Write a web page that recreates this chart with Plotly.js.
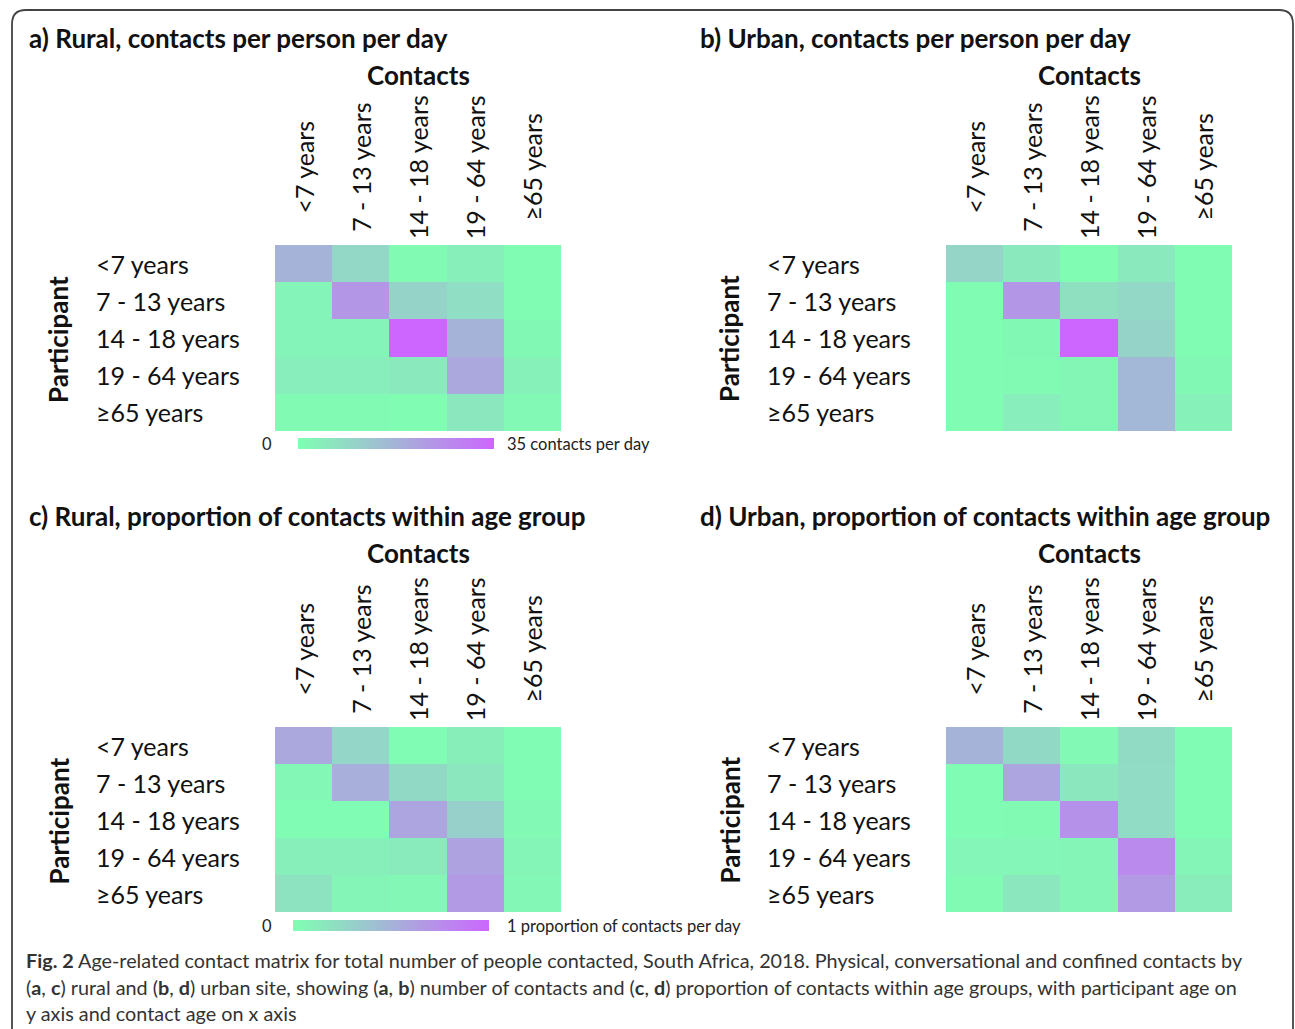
<!DOCTYPE html>
<html><head><meta charset="utf-8">
<script src="https://cdn.plot.ly/plotly-3.0.1.min.js"></script>
<style>html,body{margin:0;padding:0;background:#fff;}#chart{width:1295px;height:1029px;}</style>
</head><body><div id="chart"></div>
<script>
const ageGroups = ['<7 years', '7 - 13 years', '14 - 18 years', '19 - 64 years', '≥65 years'];

// a) Rural, contacts per person per day (rows: participant, cols: contact)
const ruralContacts = [
  [17.5, 9.0, 1.0, 3.5, 0.5],
  [2.5, 24.0, 10.0, 7.5, 0.5],
  [2.5, 2.5, 35.0, 17.5, 1.5],
  [4.0, 4.0, 5.0, 20.0, 3.0],
  [1.0, 1.0, 0.5, 5.5, 1.2]
];
// b) Urban, contacts per person per day
const urbanContacts = [
  [9.5, 5.0, 0.5, 5.0, 0.5],
  [0.5, 24.0, 7.0, 9.0, 0.5],
  [0.5, 1.5, 35.0, 10.0, 0.5],
  [0.5, 1.0, 2.0, 16.5, 1.5],
  [0.5, 4.0, 2.0, 16.5, 3.0]
];
// c) Rural, proportion of contacts within age group
const ruralProportion = [
  [0.57, 0.27, 0.02, 0.11, 0.02],
  [0.05, 0.52, 0.25, 0.15, 0.02],
  [0.02, 0.02, 0.59, 0.31, 0.04],
  [0.10, 0.10, 0.13, 0.61, 0.07],
  [0.18, 0.07, 0.05, 0.66, 0.05]
];
// d) Urban, proportion of contacts within age group
const urbanProportion = [
  [0.50, 0.25, 0.04, 0.24, 0.02],
  [0.02, 0.59, 0.16, 0.23, 0.02],
  [0.02, 0.03, 0.72, 0.23, 0.02],
  [0.06, 0.06, 0.07, 0.76, 0.07],
  [0.03, 0.16, 0.07, 0.66, 0.12]
];
const panelTitles = [
  'a) Rural, contacts per person per day',
  'b) Urban, contacts per person per day',
  'c) Rural, proportion of contacts within age group',
  'd) Urban, proportion of contacts within age group'
];
const contactsMax = 35;
const proportionMax = 1;
const scaleLabelContacts = '35 contacts per day';
const scaleLabelProportion = '1 proportion of contacts per day';
const captionLines = [
  '<b>Fig. 2</b> Age-related contact matrix for total number of people contacted, South Africa, 2018. Physical, conversational and confined contacts by',
  '(<b>a</b>, <b>c</b>) rural and (<b>b</b>, <b>d</b>) urban site, showing (<b>a</b>, <b>b</b>) number of contacts and (<b>c</b>, <b>d</b>) proportion of contacts within age groups, with participant age on',
  'y axis and contact age on x axis'
];

const W = 1295, H = 1029;
const px = v => v / W;
const py = v => 1 - v / H;
const FONT = 'Lato, "Open Sans", sans-serif';
const colorscale = [[0, '#7FFFB2'], [1, '#CC66FF']];
const LABEL = {family: FONT, size: 25, color: '#111'};
const HEAD = {family: FONT, size: 26, color: '#111'};

// panel geometry in pixels
const panels = [
  {z: ruralContacts, zmax: contactsMax, x0: 275, x1: 561, y0: 245, y1: 431, tx: 27, ty: 38, bar: {cx: 396, top: 438}, label: scaleLabelContacts},
  {z: urbanContacts, zmax: contactsMax, x0: 946, x1: 1232, y0: 245, y1: 431, tx: 698, ty: 38},
  {z: ruralProportion, zmax: proportionMax, x0: 275, x1: 561, y0: 727, y1: 912, tx: 27, ty: 516, bar: {cx: 391, top: 920}, label: scaleLabelProportion},
  {z: urbanProportion, zmax: proportionMax, x0: 946, x1: 1232, y0: 727, y1: 912, tx: 698, ty: 516}
];

const data = [];
const layout = {
  width: W, height: H,
  margin: {l: 0, r: 0, t: 0, b: 0},
  paper_bgcolor: '#fff', plot_bgcolor: '#fff',
  showlegend: false,
  annotations: [],
  shapes: []
};

panels.forEach((p, i) => {
  const n = i === 0 ? '' : String(i + 1);
  const tr = {
    type: 'heatmap',
    x: ageGroups, y: ageGroups, z: p.z,
    zmin: 0, zmax: p.zmax,
    colorscale: colorscale,
    xaxis: 'x' + n, yaxis: 'y' + n,
    hoverinfo: 'x+y+z',
    showscale: !!p.bar
  };
  if (p.bar) {
    tr.colorbar = {
      orientation: 'h',
      x: px(p.bar.cx), xanchor: 'center',
      y: py(p.bar.top), yanchor: 'top',
      len: 196, lenmode: 'pixels',
      thickness: 11, thicknessmode: 'pixels',
      outlinewidth: 0, showticklabels: false, ticks: '',
      xpad: 0, ypad: 0
    };
  }
  data.push(tr);
  layout['xaxis' + n] = {
    domain: [px(p.x0), px(p.x1)],
    anchor: 'y' + n,
    side: 'top',
    showgrid: false, zeroline: false, showline: false, ticks: '',
    showticklabels: false,
    fixedrange: true
  };
  layout['yaxis' + n] = {
    domain: [py(p.y1), py(p.y0)],
    anchor: 'x' + n,
    autorange: 'reversed',
    showgrid: false, zeroline: false, showline: false, ticks: '',
    showticklabels: false,
    fixedrange: true
  };
  // panel title
  layout.annotations.push({xref: 'paper', yref: 'paper', x: px(p.tx), y: py(p.ty), xanchor: 'left', yanchor: 'middle',
    text: '<b>' + panelTitles[i] + '</b>', showarrow: false, font: HEAD});
  // Contacts header
  layout.annotations.push({xref: 'paper', yref: 'paper', x: px((p.x0 + p.x1) / 2), y: py(p.ty + 37), xanchor: 'center', yanchor: 'middle',
    text: '<b>Contacts</b>', showarrow: false, font: HEAD});
  // Participant
  layout.annotations.push({xref: 'paper', yref: 'paper', x: px(p.x0 - 217), y: py((p.y0 + p.y1) / 2 + 1), xanchor: 'center', yanchor: 'middle', textangle: -90,
    text: '<b>Participant</b>', showarrow: false, font: HEAD});
  // contact age labels (x axis categories), rotated and centred
  ageGroups.forEach(a => {
    layout.annotations.push({xref: 'x' + n, yref: 'paper', x: a, y: py(p.y0 - 78), xanchor: 'center', yanchor: 'middle', textangle: -90,
      text: a, showarrow: false, font: LABEL});
  });
  // participant age labels, left aligned
  ageGroups.forEach(a => {
    layout.annotations.push({xref: 'paper', yref: 'y' + n, x: px(p.x0 - 181), y: a, xanchor: 'left', yanchor: 'middle',
      text: a, showarrow: false, font: LABEL});
  });
  if (p.bar) {
    const cy = py(p.bar.top + 6);
    layout.annotations.push({xref: 'paper', yref: 'paper', x: px(267), y: cy, xanchor: 'center', yanchor: 'middle',
      text: '0', showarrow: false, font: {family: FONT, size: 16.5, color: '#222'}});
    layout.annotations.push({xref: 'paper', yref: 'paper', x: px(505), y: cy, xanchor: 'left', yanchor: 'middle',
      text: p.label, showarrow: false, font: {family: FONT, size: 16.5, color: '#222'}});
  }
});

// caption
captionLines.forEach((t, k) => {
  layout.annotations.push({xref: 'paper', yref: 'paper', x: px(24), y: py(960 + k * 26.5), xanchor: 'left', yanchor: 'middle',
    text: t, showarrow: false, font: {family: FONT, size: 19.8, color: '#333'}});
});

// rounded frame, open at bottom
const L = px(12), R = px(1293), T = py(10), B = 0;
const rx = px(14), ry = 14 / H;
layout.shapes.push({
  type: 'path', xref: 'paper', yref: 'paper',
  path: `M ${L} ${B} L ${L} ${T - ry} Q ${L} ${T} ${L + rx} ${T} L ${R - rx} ${T} Q ${R} ${T} ${R} ${T - ry} L ${R} ${B}`,
  line: {color: '#444', width: 1.8}
});

Plotly.newPlot('chart', data, layout, {displayModeBar: false, staticPlot: true});
</script>
</body></html>
